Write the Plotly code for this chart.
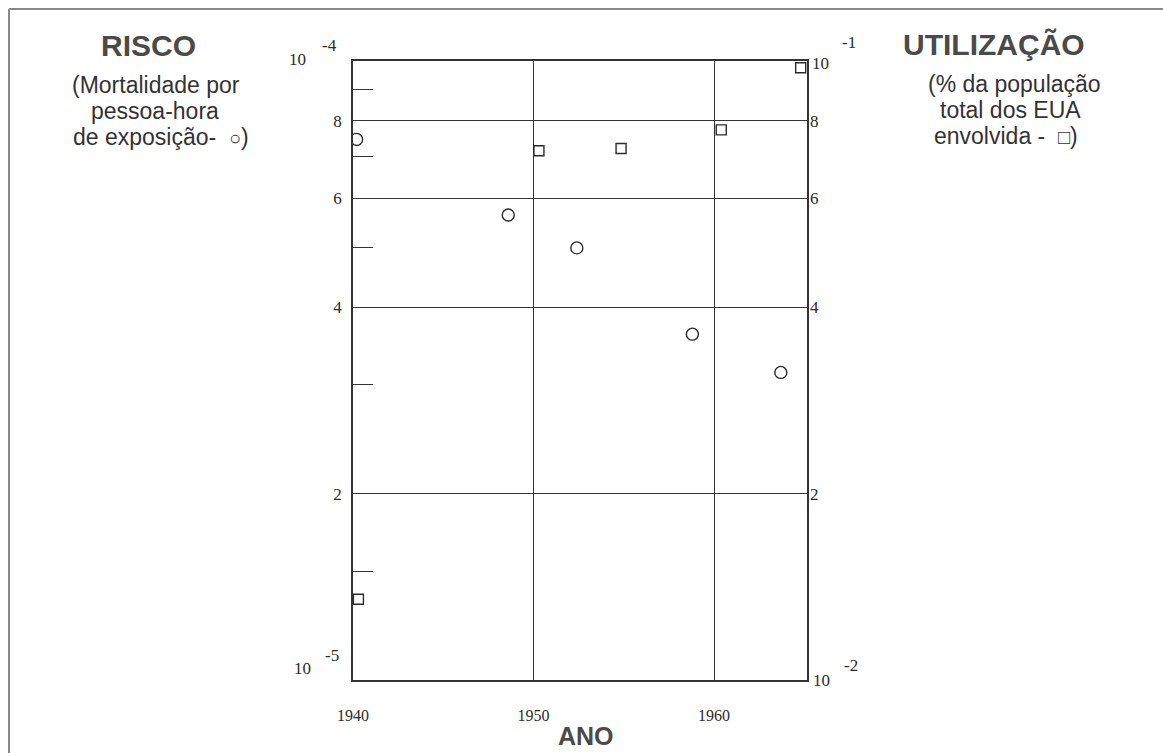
import plotly.graph_objects as go

# ---- data ----
risk_years = [1940.2, 1948.6, 1952.4, 1958.8, 1963.7]
risk_values = [7.47e-5, 5.64e-5, 4.99e-5, 3.62e-5, 3.14e-5]  # mortality per person-hour

use_years = [1940.3, 1950.3, 1954.85, 1960.4, 1964.8]
use_values = [1.35e-2, 7.16e-2, 7.22e-2, 7.74e-2, 9.75e-2]  # % of US population

x_ticks = [1940, 1950, 1960]
left_ticks = [2e-5, 4e-5, 6e-5, 8e-5]
left_minor = [1.5e-5, 3e-5, 5e-5, 7e-5, 9e-5]
right_ticks = [2e-2, 4e-2, 6e-2, 8e-2]
tick_text = ["2", "4", "6", "8"]

W, H = 1163, 753
L, R, T, B = 353, 807, 61, 680


def px(x):
    return (x - L) / (R - L)


def py(y):
    return (B - y) / (B - T)


ink = "#2b2b2b"
serif = "Liberation Serif"
sans = "Liberation Sans"

fig = go.Figure()
fig.add_trace(go.Scatter(
    x=risk_years, y=risk_values, mode="markers", yaxis="y",
    marker=dict(symbol="circle-open", size=12, color=ink, line=dict(width=1.4, color=ink)),
    showlegend=False, hoverinfo="x+y"))
fig.add_trace(go.Scatter(
    x=use_years, y=use_values, mode="markers", yaxis="y2",
    marker=dict(symbol="square-open", size=10, color=ink, line=dict(width=1.4, color=ink)),
    showlegend=False, hoverinfo="x+y"))

fig.update_layout(
    width=W, height=H,
    margin=dict(l=L, r=W - R, t=T, b=H - B, pad=0),
    paper_bgcolor="white", plot_bgcolor="white",
    xaxis=dict(range=[1940, 1965.15], tickvals=x_ticks, showgrid=True,
               gridcolor="#333", gridwidth=1.2, zeroline=False,
               showline=True, linecolor="#333", linewidth=1.5, mirror=True,
               ticks="", ticklabelstandoff=20,
               tickfont=dict(family=serif, size=16, color=ink)),
    yaxis=dict(type="log", range=[-5, -4], tickvals=left_ticks, ticktext=tick_text,
               showgrid=True, gridcolor="#333", gridwidth=1.2, zeroline=False,
               showline=True, linecolor="#333", linewidth=1.5, mirror=True,
               ticks="", ticklabelstandoff=6,
               tickfont=dict(family=serif, size=17, color=ink),
               minor=dict(tickvals=left_minor, ticks="inside", ticklen=20,
                          tickcolor="#333", tickwidth=1.3, showgrid=False)),
    yaxis2=dict(type="log", range=[-2, -1], overlaying="y", side="right",
                tickvals=right_ticks, ticktext=tick_text, showgrid=False,
                zeroline=False, showline=False, ticks="", ticklabelstandoff=2,
                tickfont=dict(family=serif, size=17, color=ink)),
)


def note(text, x, y, size, family=sans, color=ink, bold=False):
    if bold:
        text = "<b>" + text + "</b>"
    fig.add_annotation(text=text, x=px(x), y=py(y), xref="paper", yref="paper",
                       xanchor="center", yanchor="middle", showarrow=False,
                       borderpad=0,
                       font=dict(family=family, size=size, color=color))


# headers
note("RISCO", 148, 45, 30, color="#4a4a4a", bold=True)
note("(Mortalidade por", 156, 85, 23, color="#333")
note("pessoa-hora", 155, 111, 23, color="#333")
note("de exposição-  <span style='font-size:20px'>○</span>)", 161, 137, 23, color="#333")

note("UTILIZAÇÃO", 994, 44, 30, color="#4a4a4a", bold=True)
note("(% da população", 1014, 84, 23, color="#333")
note("total dos EUA", 1010, 110, 23, color="#333")
note("envolvida -  <span style='font-size:20px'>□</span>)", 1006, 136, 23, color="#333")

note("ANO", 586, 736, 25, color="#4a4a4a", bold=True)

# power-of-ten end labels
note("10", 297, 59, 17, family=serif)
note("-4", 329, 45, 17, family=serif)
note("10", 302, 668, 17, family=serif)
note("-5", 332, 655, 17, family=serif)
note("10", 820, 63, 17, family=serif)
note("-1", 849, 43, 17, family=serif)
note("10", 821, 680, 17, family=serif)
note("-2", 851, 665, 17, family=serif)

# outer frame (top and left edges visible)
fig.add_shape(type="line", xref="paper", yref="paper",
              x0=px(9), x1=px(W), y0=py(9), y1=py(9),
              line=dict(color="#888", width=2))
fig.add_shape(type="line", xref="paper", yref="paper",
              x0=px(9), x1=px(9), y0=py(9), y1=py(H),
              line=dict(color="#888", width=2))

fig.write_html("out.html",
               config={"displayModeBar": False},
               post_script="document.body.style.margin='0px';"
                           "document.body.style.overflow='hidden';")
